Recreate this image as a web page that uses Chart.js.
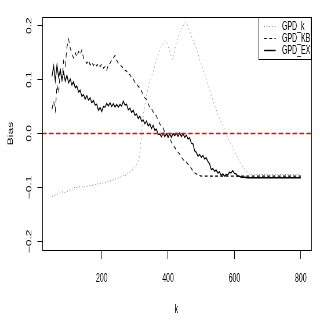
<!DOCTYPE html>
<html>
<head>
<meta charset="utf-8">
<script src="https://cdn.jsdelivr.net/npm/chart.js@4.4.0/dist/chart.umd.min.js"></script>
<style>
  html, body { margin: 0; padding: 0; background: #fff; }
</style>
</head>
<body>
<canvas id="biasChart" width="552" height="327" style="width:320px;height:327px"></canvas>
<script>
// k values and bias for GPD_k (dotted grey)
const kGpdK = [50,60,70,80,90,100,110,115,120,130,140,150,160,170,180,190,200,210,220,230,
  240,250,260,265,270,280,290,295,300,305,310,313,316,318,320,323,327,332,337,345,
  352,360,367,372,377,385,392,397,402,407,413,418,422,427,432,437,442,447,452,456,
  460,465,470,475,480,485,490,495,500,505,510,515,520,527,537,550,560,567,574,580,
  585,590,595,600,605,610,615,620,625,630,635,640,645,650,700,750,800];
const biasGpdK = [-0.117,-0.114,-0.112,-0.108,-0.110,-0.106,-0.104,-0.099,-0.101,-0.099,
  -0.098,-0.099,-0.097,-0.096,-0.095,-0.093,-0.092,-0.091,-0.089,-0.087,
  -0.085,-0.082,-0.080,-0.077,-0.079,-0.073,-0.069,-0.066,-0.062,-0.058,
  -0.052,-0.044,-0.030,-0.015,0.000,0.022,0.042,0.060,0.077,0.095,
  0.109,0.125,0.140,0.150,0.159,0.166,0.171,0.167,0.158,0.149,
  0.137,0.148,0.163,0.172,0.183,0.189,0.195,0.201,0.206,0.204,
  0.199,0.190,0.181,0.173,0.166,0.157,0.148,0.138,0.127,0.119,
  0.110,0.101,0.091,0.077,0.058,0.035,0.020,0.012,0.000,-0.008,
  -0.014,-0.020,-0.027,-0.033,-0.039,-0.045,-0.051,-0.056,-0.061,-0.065,
  -0.069,-0.072,-0.075,-0.076,-0.076,-0.076,-0.076];

// GPD_KB (dashed black)
const kGpdKB = [50,55,60,65,70,75,80,85,90,95,100,105,110,115,120,125,130,135,140,145,
  150,155,160,165,170,175,180,185,190,195,200,205,210,215,220,225,230,235,240,245,
  250,255,260,265,270,275,280,285,290,295,300,305,310,315,320,325,330,335,340,345,
  350,355,360,365,370,375,380,385,390,395,400,405,410,415,420,425,430,435,440,445,
  450,455,460,465,470,475,480,485,490,495,500,510,800];
const biasGpdKB = [0.045,0.060,0.042,0.090,0.075,0.118,0.095,0.135,0.125,0.160,
  0.175,0.158,0.148,0.140,0.150,0.142,0.152,0.146,0.155,0.140,
  0.135,0.130,0.136,0.127,0.132,0.126,0.131,0.125,0.130,0.124,
  0.129,0.121,0.124,0.117,0.128,0.130,0.136,0.140,0.145,0.136,
  0.130,0.128,0.124,0.122,0.117,0.116,0.110,0.109,0.103,0.101,
  0.095,0.093,0.087,0.085,0.078,0.072,0.066,0.063,0.055,0.048,
  0.046,0.040,0.036,0.032,0.024,0.018,0.013,0.010,0.003,0.001,
  -0.005,-0.008,-0.016,-0.020,-0.026,-0.030,-0.035,-0.038,-0.044,-0.048,
  -0.051,-0.053,-0.057,-0.060,-0.065,-0.069,-0.073,-0.075,-0.077,-0.078,
  -0.079,-0.079,-0.079];

// GPD_EX (solid black)
const kGpdEX = [50,55,60,65,70,75,80,85,90,95,100,105,110,115,120,125,130,135,140,145,
  150,155,160,165,170,175,180,185,190,195,200,205,210,215,220,225,230,235,240,245,
  250,255,260,265,270,275,280,285,290,295,300,305,310,315,320,325,330,335,340,345,
  350,355,360,365,370,375,380,385,390,395,400,405,410,415,420,425,430,435,440,445,
  450,455,460,465,470,475,480,485,490,495,500,505,510,515,520,525,530,535,540,545,
  550,555,560,565,570,575,580,585,590,595,600,605,610,615,620,630,640,700,800];
const biasGpdEX = [0.106,0.125,0.098,0.127,0.104,0.118,0.100,0.114,0.097,0.108,
  0.094,0.101,0.090,0.096,0.085,0.088,0.077,0.080,0.069,0.072,
  0.064,0.070,0.062,0.066,0.057,0.061,0.053,0.054,0.043,0.048,
  0.041,0.050,0.049,0.056,0.051,0.057,0.050,0.055,0.049,0.054,
  0.049,0.054,0.051,0.060,0.053,0.054,0.044,0.047,0.039,0.043,
  0.034,0.036,0.028,0.032,0.023,0.025,0.018,0.023,0.014,0.018,
  0.009,0.015,0.006,0.008,-0.002,-0.001,-0.006,0.001,-0.006,0.000,
  -0.007,-0.001,-0.007,0.000,-0.004,0.000,-0.005,0.001,-0.006,0.000,
  -0.007,-0.003,-0.010,-0.008,-0.018,-0.019,-0.032,-0.035,-0.042,-0.039,
  -0.044,-0.041,-0.047,-0.045,-0.052,-0.056,-0.067,-0.065,-0.070,-0.068,
  -0.073,-0.071,-0.078,-0.075,-0.079,-0.076,-0.077,-0.072,-0.073,-0.069,
  -0.074,-0.075,-0.079,-0.079,-0.081,-0.081,-0.082,-0.082,-0.082];

// horizontal reference line at zero
const refK = [20, 830];
const refBias = [0, 0];

const xTicks = [200, 400, 600, 800];
const xTickLabels = ["200", "400", "600", "800"];
const yTicks = [-0.2, -0.1, 0, 0.1, 0.2];
const yTickLabels = ["\u22120.2", "\u22120.1", "0.0", "0.1", "0.2"];

const toPoints = (ks, vs) => ks.map((k, i) => ({ x: k, y: vs[i] }));

Chart.defaults.font.family = "'Liberation Sans', Arial, Helvetica, sans-serif";
Chart.defaults.font.size = 12;
Chart.defaults.color = "#000";

// plot box plus an R-style legend in the top right corner
const framePlugin = {
  id: "frame",
  afterDraw(chart) {
    const { ctx, chartArea: a } = chart;
    ctx.save();
    ctx.strokeStyle = "#000";
    ctx.lineWidth = 1;
    ctx.setLineDash([]);
    ctx.strokeRect(Math.round(a.left) + 0.5, Math.round(a.top) + 0.5,
      Math.round(a.right - a.left), Math.round(a.bottom - a.top));

    const boxW = 90, rowH = 12;
    const items = chart.data.datasets.filter((d) => d.label);
    const bx = Math.round(a.right - boxW) + 0.5;
    const by = Math.round(a.top) + 0.5;
    const bh = rowH * items.length + 6;
    ctx.fillStyle = "#fff";
    ctx.fillRect(bx, by, boxW, bh);
    ctx.strokeRect(bx, by, boxW, bh);

    ctx.font = "12px 'Liberation Sans', Arial, Helvetica, sans-serif";
    ctx.textBaseline = "middle";
    ctx.textAlign = "left";
    items.forEach((d, i) => {
      const y = by + 9 + i * rowH;
      ctx.strokeStyle = d.borderColor;
      ctx.lineWidth = d.borderWidth;
      ctx.setLineDash(d.borderDash || []);
      ctx.beginPath();
      ctx.moveTo(bx + 9, y);
      ctx.lineTo(bx + 29, y);
      ctx.stroke();
      ctx.setLineDash([]);
      ctx.fillStyle = "#000";
      ctx.fillText(d.label, bx + 40, y);
    });
    ctx.restore();
  },
};

const ctx = document.getElementById("biasChart").getContext("2d");
new Chart(ctx, {
  type: "line",
  data: {
    datasets: [
      {
        data: toPoints(refK, refBias),
        borderColor: "#ff0000",
        borderWidth: 1.5,
        borderDash: [8, 4],
        pointRadius: 0,
      },
      {
        label: "GPD_k",
        data: toPoints(kGpdK, biasGpdK),
        borderColor: "#8a8a8a",
        borderWidth: 1,
        borderDash: [1.5, 3],
        pointRadius: 0,
      },
      {
        label: "GPD_KB",
        data: toPoints(kGpdKB, biasGpdKB),
        borderColor: "#000",
        borderWidth: 1.1,
        borderDash: [5, 4],
        pointRadius: 0,
      },
      {
        label: "GPD_EX",
        data: toPoints(kGpdEX, biasGpdEX),
        borderColor: "#000",
        borderWidth: 1.4,
        pointRadius: 0,
      },
    ],
  },
  options: {
    responsive: false,
    animation: false,
    devicePixelRatio: 1,
    layout: { padding: { left: 0, right: 16, top: 17, bottom: 0 } },
    plugins: {
      legend: { display: false },
      tooltip: { enabled: false },
    },
    scales: {
      x: {
        type: "linear",
        min: 20,
        max: 830,
        afterBuildTicks: (s) => { s.ticks = xTicks.map((v) => ({ value: v })); },
        afterFit: (s) => { s.height = 77; },
        ticks: {
          callback: (v) => xTickLabels[xTicks.indexOf(v)],
          autoSkip: false,
          maxRotation: 0,
          padding: 12,
        },
        grid: { drawOnChartArea: false, drawTicks: true, tickLength: 9, color: "#000" },
        border: { display: false },
        title: { display: true, text: "k", padding: { top: 0, bottom: 10 } },
      },
      y: {
        type: "linear",
        min: -0.216,
        max: 0.216,
        afterBuildTicks: (s) => { s.ticks = yTicks.map((v) => ({ value: v })); },
        afterFit: (s) => { s.width = 72.5; },
        ticks: {
          callback: (v) => yTickLabels[yTicks.indexOf(v)],
          autoSkip: false,
          minRotation: 90,
          maxRotation: 90,
          crossAlign: "center",
          padding: 2,
        },
        grid: { drawOnChartArea: false, drawTicks: true, tickLength: 8, color: "#000" },
        border: { display: false },
        title: { display: true, text: "Bias", padding: { top: 11, bottom: 0 } },
      },
    },
  },
  plugins: [framePlugin],
});
</script>
</body>
</html>
